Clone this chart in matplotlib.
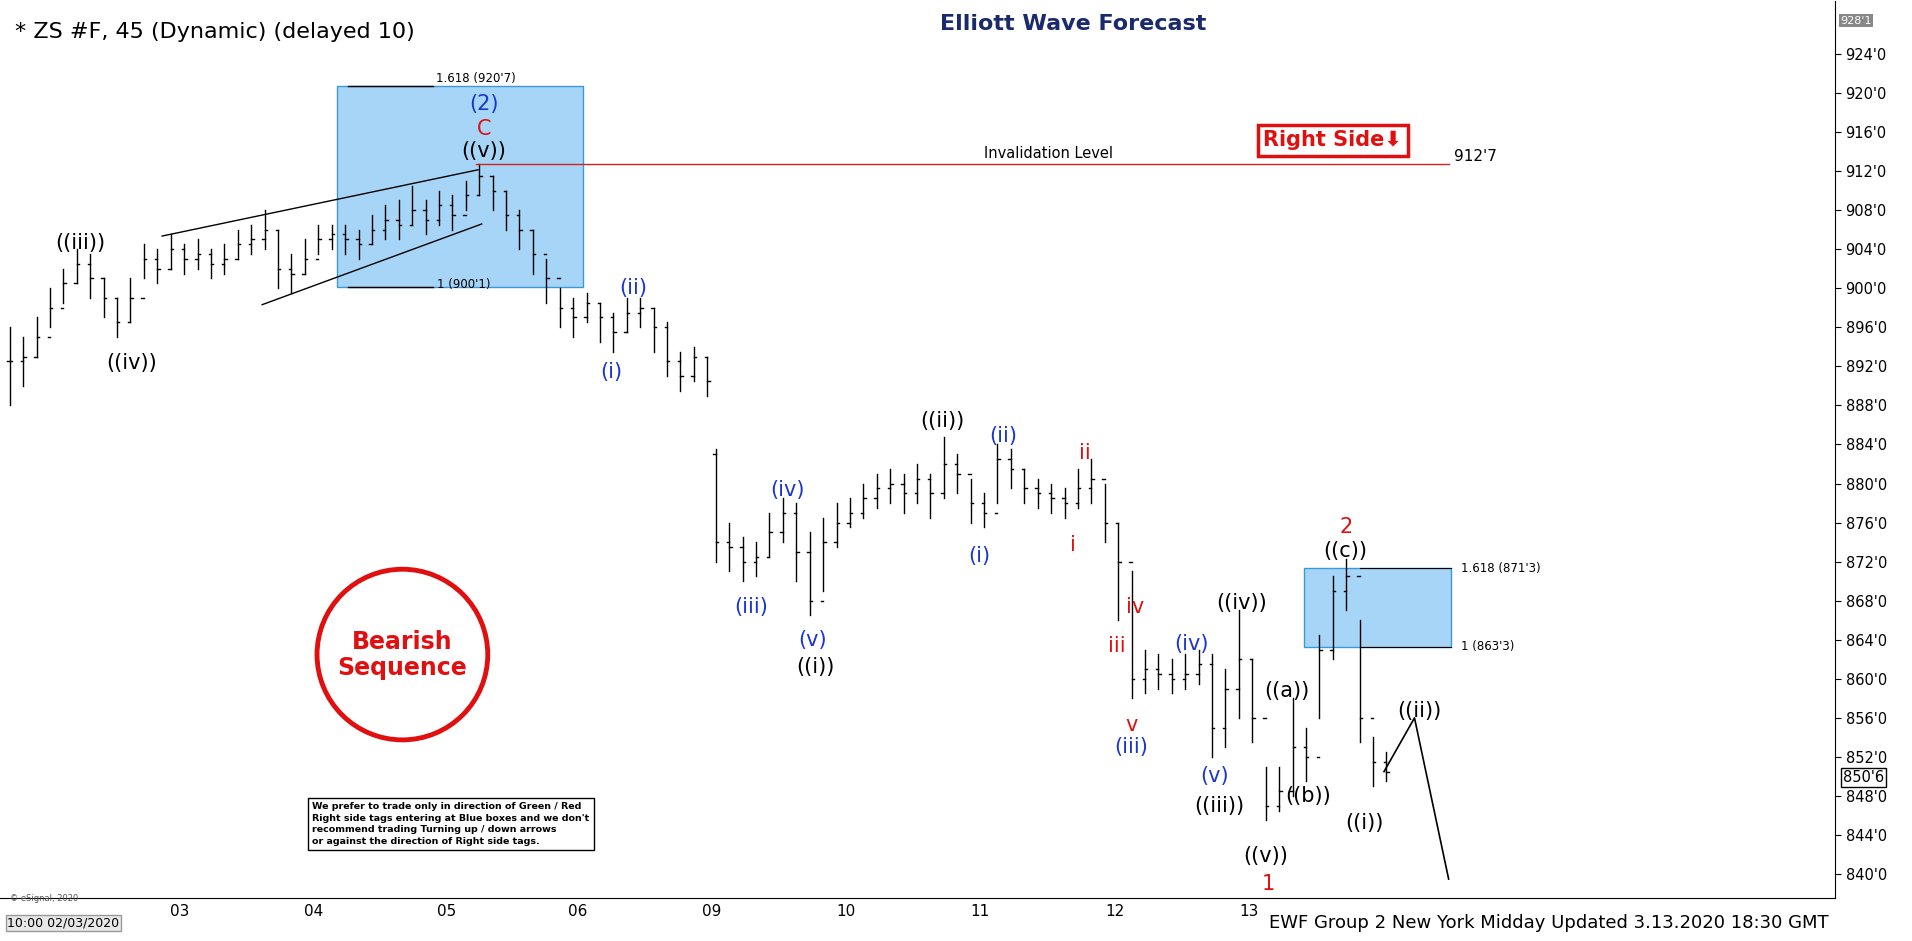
import numpy as np
import matplotlib
matplotlib.use("Agg")
import matplotlib.pyplot as plt
from matplotlib.patches import Rectangle, Ellipse

# reference layout units (display px 1568x772)
PW, PH = 1568.0, 772.0
def X(px): return (px - 147) / 110.0
def Y(py): return 912 - (py - 141) / 8.11

# ---- data ----
seg1_close = [892.5,893,895,898,900.5,902.5,901,899,896.5,899,903,902,904,903,903.5,902.5,903,904.5,905,906,
              902,901.5,903,905,905.5,905,904.5,906,907,906.5,908,907,908.5,907.5,909.5,911.5,910,907.5,906,903.5,
              901,898,897,898.5,897,895.5,897.5,898,896,892.5,891,893,890.5]
seg1_high = [896,895,897,900,902,904,903.5,901,899,901,904.5,904,905.5,904.5,905,904,904.5,906,906.5,908,
             906,903.5,905,906.5,906.5,906.5,906,907.5,908.5,909,910.5,909,910,909.5,911,912.7,911.5,910,908,906,
             903,900,899,899.5,898.5,897.5,899,899,898,896.5,893.5,894,893]
seg1_low = [888,890,893,896,898.5,900.5,899,897,895,896.5,901,900.5,902,901.5,902,901,901.5,903,903.5,904,
            900,899.5,901.5,903.5,904,903.5,903,904.5,905,905,906.5,905.5,906.5,906,908,909.5,908,906,904,901.5,
            898.5,896,895,896.5,894.5,893.5,895.5,896,893.5,891,889.5,890.5,889]
seg2_close = [874,873.5,872,872.5,875,877,873,868,874,876,877,878.5,879.5,880,879,880.5,879,882,881,878,
              877,882.5,881.5,879.5,879,878.5,878,879.5,880.5,876,872,860,861,860.5,860,860.5,861.5,855,859,862,
              856,847,848.5,853,852,863,869,870.5,856,851.5,850.5]
seg2_high = [883.5,876,874.5,874,877,878.5,878,875,876.5,878,878.5,880,881,881.5,881,882,881,884.8,883,880.5,
             879,884,883.5,881.5,880.5,880,879.5,881.5,882.5,880,876,871,863,862.5,862,862.5,863,862.5,861,867,
             862,851,851,858,855,864.5,870.5,872.3,866,854,852.5]
seg2_low = [872,871,870,870.5,872.5,874,870,866.5,869,873.5,875.5,876.5,877.5,878,877,878,876.5,878.5,879,876,
            875.5,878,879.5,878,877.5,877,876.5,877.5,878,874,866,858,858.5,859,858.5,859,859.5,852,853,856,
            853.5,845.5,846.5,848,849.5,856,862,867,853.5,849,849.5]
seg2_first_open = 883
proj_x = [X(1135), X(1160), X(1188)]
proj_y = [850.5, 856, 839.5]
day_labels = ['03','04','05','06','09','10','11','12','13']
day_px = [147,257,366,474,584,694,804,914,1024]

fig = plt.figure(figsize=(19.12, 9.41), dpi=100)
fig.patch.set_facecolor('white')
ax = fig.add_axes([0, 35/PH, 1505/PW, 1 - 35/PH - 1/PH])
ax.set_xlim(X(0), X(1505))
ax.set_ylim(Y(745), Y(0))

def draw_bars(xs, o, h, l, c):
    w = 0.018
    for xi, oi, hi, li, ci in zip(xs, o, h, l, c):
        ax.plot([xi, xi], [li, hi], color='black', lw=1.0)
        ax.plot([xi - w, xi], [oi, oi], color='black', lw=1.0)
        ax.plot([xi, xi + w], [ci, ci], color='black', lw=1.0)

x1 = np.array([X(8 + 11 * k) for k in range(len(seg1_close))])
o1 = [seg1_close[0]] + seg1_close[:-1]
draw_bars(x1, o1, seg1_high, seg1_low, seg1_close)
x2 = np.array([X(587 + 11 * k) for k in range(len(seg2_close))])
o2 = [seg2_first_open] + seg2_close[:-1]
draw_bars(x2, o2, seg2_high, seg2_low, seg2_close)
ax.plot(proj_x, proj_y, color='black', lw=1.2)

# boxes
for (l, r, top, bot) in [(276, 478, 920.7, 900.1), (1069, 1190, 871.3, 863.3)]:
    ax.add_patch(Rectangle((X(l), bot), X(r) - X(l), top - bot, facecolor='#a7d5f7', edgecolor='#3a9ad9', lw=1, zorder=0))
ax.plot([X(285), X(355)], [920.7, 920.7], color='black', lw=1)
ax.plot([X(285), X(355)], [900.1, 900.1], color='black', lw=1)
ax.plot([X(1115), X(1190)], [871.3, 871.3], color='black', lw=0.8)
ax.plot([X(1115), X(1190)], [863.3, 863.3], color='black', lw=0.8)
# invalidation
ax.plot([X(390), X(1188)], [912.7, 912.7], color='#d62020', lw=1)
# wedge
ax.plot([X(133), X(392)], [Y(195), Y(140)], color='black', lw=1)
ax.plot([X(215), X(395)], [Y(252), Y(185)], color='black', lw=1)

ax.yaxis.tick_right()
yt = list(range(840, 925, 4))
ax.set_yticks(yt)
ax.set_yticklabels([f"{v}'0" for v in yt], fontsize=10.5)
ax.set_xticks([X(p) for p in day_px])
ax.set_xticklabels(day_labels, fontsize=11)
ax.tick_params(axis='x', length=0, pad=4)
ax.tick_params(axis='y', length=4)
for s in ['top', 'left']:
    ax.spines[s].set_visible(False)

def T(px, py, s, color='black', size=15, **kw):
    fig.text(px / PW, 1 - py / PH, s, color=color, fontsize=size, ha=kw.pop('ha', 'center'), va=kw.pop('va', 'center'), **kw)

B, R, K = '#1a35d0', '#e01010', 'black'
labels = [("(2)",397,85,B),("C",397,106,R),("((v))",397,124,K),("((iii))",66,199,K),("((iv))",108,298,K),
          ("(i)",501,305,B),("(ii)",519,236,B),("(iii)",616,498,B),("(iv)",646,402,B),("(v)",666,525,B),
          ("((i))",669,547,K),("((ii))",773,345,K),("(i)",803,456,B),("(ii)",823,358,B),("i",880,447,R),
          ("ii",890,372,R),("iii",916,530,R),("iv",931,498,R),("v",928,595,R),("(iii)",928,613,B),
          ("(iv)",977,528,B),("(v)",996,637,B),("((iii))",1000,661,K),("((iv))",1018,495,K),("((v))",1038,702,K),
          ("1",1040,725,R),("((a))",1055,567,K),("((b))",1073,653,K),("((c))",1103,452,K),("2",1104,432,R),
          ("((i))",1119,675,K),("((ii))",1164,583,K)]
for s, px, py, c in labels:
    T(px, py, s, c, 15)

T(390, 64, "1.618 (920'7)", size=8.5)
T(380, 233, "1 (900'1)", size=8.5)
T(1198, 466, "1.618 (871'3)", size=8.5, ha='left')
T(1198, 530, "1 (863'3)", size=8.5, ha='left')
T(860, 126, "Invalidation Level", size=10.5)
T(1192, 128, "912'7", size=11, ha='left')
T(12, 26, "* ZS #F, 45 (Dynamic) (delayed 10)", size=16, ha='left')
T(880, 20, "Elliott Wave Forecast", color='#1a2a6c', size=16, weight='bold')
T(1500, 757, "EWF Group 2 New York Midday Updated 3.13.2020 18:30 GMT", size=13, ha='right')
T(52, 757, "10:00 02/03/2020", size=9, color='black',
  bbox=dict(facecolor='#e8e8e8', edgecolor='#999999', pad=1))
T(8, 737, "© eSignal, 2020", size=6, ha='left', color='#555555')
T(1528, 638, "850'6", size=10.5, bbox=dict(facecolor='white', edgecolor='black', pad=1.5))
T(1522, 17, "928'1", size=8, color='white', bbox=dict(facecolor='#888888', edgecolor='none', pad=1))

# Bearish sequence
circ = Ellipse((330 / PW, 1 - 537 / PH), 140 / PW, 140 / PH, transform=fig.transFigure, fill=False, edgecolor='#e01010', lw=3.5)
fig.patches.append(circ)
fig.text(330 / PW, 1 - 537 / PH, "Bearish\nSequence", color='#e01010', fontsize=17, weight='bold', ha='center', va='center', linespacing=1.1)
# Right side
fig.text(1093 / PW, 1 - 115 / PH, "Right Side\u2b07", color='#e01010', fontsize=15, weight='bold', ha='center', va='center',
         bbox=dict(facecolor='white', edgecolor='#e01010', lw=2.5, pad=4))
# disclaimer
fig.text(256 / PW, 1 - 676 / PH,
         "We prefer to trade only in direction of Green / Red\nRight side tags entering at Blue boxes and we don't\n"
         "recommend trading Turning up / down arrows\nor against the direction of Right side tags.",
         fontsize=6.8, weight='bold', ha='left', va='center', linespacing=1.35,
         bbox=dict(facecolor='white', edgecolor='black', lw=1, pad=3))

fig.savefig("out.png", dpi=100)
